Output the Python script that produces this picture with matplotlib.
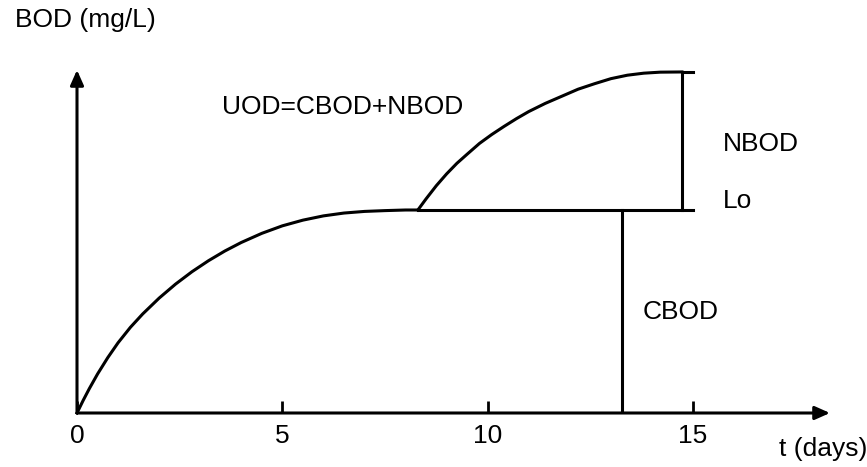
import numpy as np
import matplotlib
matplotlib.use('Agg')
import matplotlib.pyplot as plt

plt.rcParams['font.family'] = ['Liberation Sans', 'DejaVu Sans']

# first-stage (carbonaceous) BOD curve, days vs mg/L
t_cbod = [0.0, 0.15, 0.3, 0.5, 0.75, 1.0, 1.3, 1.6, 2.0, 2.4, 2.8, 3.2,
          3.6, 4.0, 4.5, 5.0, 5.5, 6.0, 6.5, 7.0, 7.5, 8.0, 8.3]
y_cbod = [0.0, 0.62, 1.2, 1.92, 2.73, 3.46, 4.22, 4.88, 5.66, 6.35, 6.96, 7.5,
          7.98, 8.4, 8.85, 9.22, 9.5, 9.71, 9.85, 9.93, 9.97, 10.0, 10.0]

# second-stage (nitrogenous) curve starting from Lo
t_nbod = [8.3, 8.5, 8.75, 9.0, 9.25, 9.5, 9.8, 10.1, 10.4, 10.7, 11.0, 11.4,
          11.8, 12.2, 12.6, 13.0, 13.4, 13.8, 14.2, 14.73]
y_nbod = [10.0, 10.55, 11.2, 11.78, 12.3, 12.75, 13.28, 13.72, 14.12, 14.5, 14.85, 15.25,
          15.6, 15.95, 16.22, 16.47, 16.64, 16.74, 16.79, 16.8]

Lo = 10.0
UOD = 16.8
t_cbod_mark = 13.27
t_nbod_mark = 14.73
t_end = 15.0

xticks = [0, 5, 10, 15]
xlabels = ['0', '5', '10', '15']

W, H = 867, 467
fig = plt.figure(figsize=(W/100., H/100.), dpi=100, facecolor='white')
ax = fig.add_axes([77./W, (H-413.)/H, (830.-77)/W, (413.-70)/H])
for s in ax.spines.values():
    s.set_visible(False)

xmax = 753/41.07
ymax = 343/20.3
ax.set_xlim(0, xmax)
ax.set_ylim(0, ymax)

# axes with arrow heads
arw = dict(arrowstyle='-|>,head_length=0.9,head_width=0.4', lw=2.2, color='k',
           shrinkA=0, shrinkB=0)
ax.annotate('', xy=(xmax, 0), xytext=(0, 0), arrowprops=arw, annotation_clip=False)
ax.annotate('', xy=(0, ymax), xytext=(0, 0), arrowprops=arw, annotation_clip=False)

ax.set_xticks(xticks)
ax.set_xticklabels(xlabels, fontsize=19)
ax.tick_params(axis='x', direction='in', length=8.5, width=2, pad=8)
ax.set_yticks([])

lw = 2.2
ax.plot(t_cbod, y_cbod, c='k', lw=lw, clip_on=False, solid_joinstyle='round')
ax.plot(t_nbod, y_nbod, c='k', lw=lw, clip_on=False, solid_joinstyle='round')
ax.plot([t_cbod[-1], t_end], [Lo, Lo], c='k', lw=lw)
ax.plot([t_nbod_mark, t_end], [UOD, UOD], c='k', lw=lw, clip_on=False)
ax.plot([t_cbod_mark, t_cbod_mark], [0, Lo], c='k', lw=lw)
ax.plot([t_nbod_mark, t_nbod_mark], [Lo, UOD], c='k', lw=lw, clip_on=False)

fs = 19
ax.text(-1.51, 19.36, 'BOD (mg/L)', fontsize=fs, va='center', ha='left')
ax.text(3.53, 15.07, 'UOD=CBOD+NBOD', fontsize=fs, va='center', ha='left')
ax.text(15.73, 13.25, 'NBOD', fontsize=fs, va='center', ha='left')
ax.text(15.73, 10.44, 'Lo', fontsize=fs, va='center', ha='left')
ax.text(13.78, 4.98, 'CBOD', fontsize=fs, va='center', ha='left')
ax.text(17.09, -1.77, 't (days)', fontsize=fs, va='center', ha='left')

fig.savefig('out.png', dpi=100, facecolor='white')
